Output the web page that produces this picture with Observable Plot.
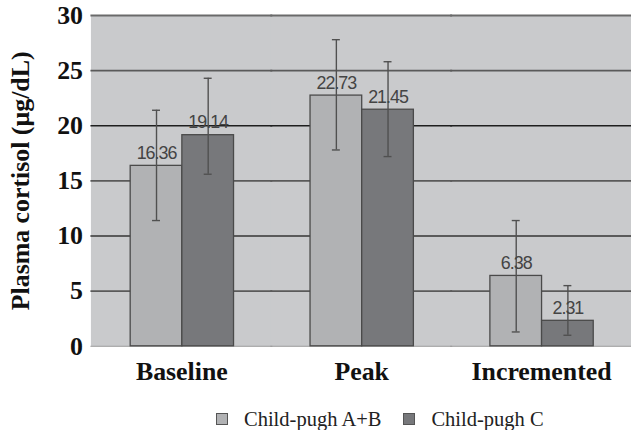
<!DOCTYPE html>
<html>
<head>
<meta charset="utf-8">
<script src="https://cdn.jsdelivr.net/npm/d3@7"></script>
<script src="https://cdn.jsdelivr.net/npm/@observablehq/plot@0.6"></script>
<style>
  html, body { margin: 0; padding: 0; background: #fff; overflow: hidden; width: 631px; height: 430px; }
  #chart svg { display: block; }
  #chart g[aria-label="y-axis tick label"] text { font: bold 26px "Liberation Serif", "Times New Roman", serif; fill: #111; }
  #chart g[aria-label="fx-axis tick label"] text { font: bold 26px "Liberation Serif", "Times New Roman", serif; fill: #111; }
  #chart g[aria-label="y-axis label"] text { font: bold 26px "Liberation Serif", "Times New Roman", serif; fill: #111; }
  #chart g[aria-label="text"] text { font: 18px "Liberation Sans", Arial, sans-serif; fill: #444; letter-spacing: -1px; }
  .legend { display: flex; justify-content: flex-start; align-items: center; gap: 22px;
    font-family: "Liberation Serif", "Times New Roman", serif; font-size: 20.5px; color: #222;
    margin-top: 15px; padding-left: 216px; }
  .legend span.item { display: flex; align-items: center; gap: 16px; }
  .legend span.sw { width: 10px; height: 10px; border: 1px solid #555; display: inline-block; }
</style>
</head>
<body>
<div id="chart"></div>
<div class="legend" id="legend"></div>
<script>
const categories = ["Baseline", "Peak", "Incremented"];
const series = ["Child-pugh A+B", "Child-pugh C"];
const valuesAB = [16.36, 22.73, 6.38];
const valuesC = [19.14, 21.45, 2.31];
const errLowAB = [11.4, 17.8, 1.3];
const errHighAB = [21.4, 27.8, 11.4];
const errLowC = [15.6, 17.2, 1.0];
const errHighC = [24.3, 25.8, 5.5];
const yTicks = [0, 5, 10, 15, 20, 25, 30];
const colors = ["#b1b2b4", "#77787b"];

const data = [];
categories.forEach((c, i) => {
  data.push({cat: c, series: series[0], value: valuesAB[i], lo: errLowAB[i], hi: errHighAB[i]});
  data.push({cat: c, series: series[1], value: valuesC[i], lo: errLowC[i], hi: errHighC[i]});
});

const chart = Plot.plot({
  width: 635,
  height: 395,
  marginLeft: 92,
  marginRight: 0,
  marginTop: 15,
  marginBottom: 47,
  style: {background: "transparent", overflow: "visible"},
  fx: {domain: categories, padding: 0, axis: null},
  x: {domain: series, paddingInner: 0, paddingOuter: 0.72, axis: null},
  y: {domain: [0, 30], axis: null},
  color: {domain: series, range: colors},
  marks: [
    Plot.frame({fill: "#c9cacc", stroke: null, insetLeft: -1, insetRight: -1}),
    Plot.ruleY([5, 10, 15, 25], {stroke: "#5a5a5a", strokeWidth: 1.8, insetLeft: -1, insetRight: -1}),
    Plot.ruleY([20], {stroke: "#1e1e1e", strokeWidth: 1.6, insetLeft: -1, insetRight: -1}),
    Plot.ruleY([30], {stroke: "#6a6a6a", strokeWidth: 2, insetLeft: -1, insetRight: -1}),
    Plot.ruleY([0], {stroke: "#9a9a9a", strokeWidth: 1, insetLeft: -1, insetRight: -1}),
    Plot.barY(data, {fx: "cat", x: "series", y: "value", fill: "series", stroke: "#4a4a4a", strokeWidth: 1.3}),
    Plot.ruleX(data, {fx: "cat", x: "series", y1: "lo", y2: "hi", stroke: "#505050", strokeWidth: 1.4}),
    Plot.tickY(data, {fx: "cat", x: "series", y: "lo", stroke: "#505050", strokeWidth: 1.4, insetLeft: 22, insetRight: 22}),
    Plot.tickY(data, {fx: "cat", x: "series", y: "hi", stroke: "#505050", strokeWidth: 1.4, insetLeft: 22, insetRight: 22}),
    Plot.text(data, {fx: "cat", x: "series", y: "value", text: d => d.value.toFixed(2), lineAnchor: "bottom", dy: -7}),
    Plot.axisY({ticks: yTicks, tickSize: 0, tickPadding: 9, tickFormat: d => d,
      label: "Plasma cortisol (µg/dL)", labelAnchor: "center", labelArrow: "none", labelOffset: 82}),
    Plot.axisFx({anchor: "bottom", tickSize: 0, tickPadding: 15, label: null}),
    Plot.ruleX([0], {frameAnchor: "left", stroke: "#8a8a8a", strokeWidth: 1.2})
  ]
});
document.getElementById("chart").appendChild(chart);

const legend = document.getElementById("legend");
series.forEach((s, i) => {
  const item = document.createElement("span");
  item.className = "item";
  const sw = document.createElement("span");
  sw.className = "sw";
  sw.style.background = colors[i];
  const t = document.createElement("span");
  t.textContent = s;
  item.appendChild(sw); item.appendChild(t);
  legend.appendChild(item);
});
</script>
</body>
</html>
